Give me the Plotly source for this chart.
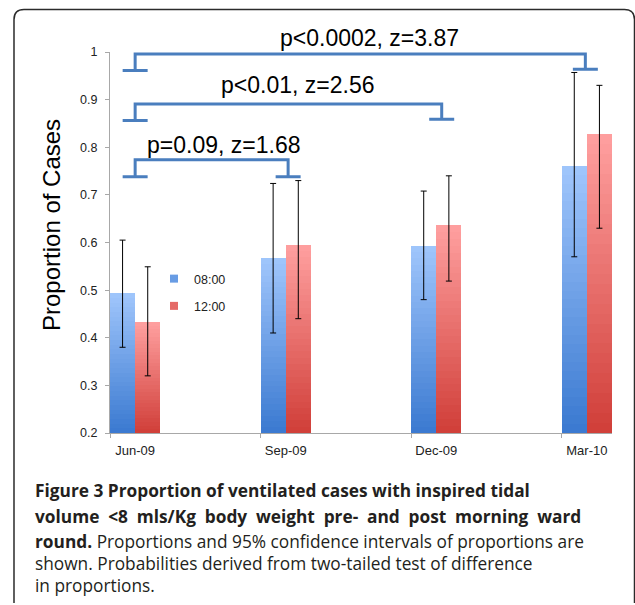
import plotly.graph_objects as go

# ---------------- data ----------------
categories = ["Jun-09", "Sep-09", "Dec-09", "Mar-10"]
series_names = ["08:00", "12:00"]
am_values = [0.493, 0.567, 0.593, 0.761]
am_lo = [0.380, 0.410, 0.480, 0.570]
am_hi = [0.605, 0.724, 0.708, 0.957]
noon_values = [0.433, 0.595, 0.637, 0.827]
noon_lo = [0.320, 0.440, 0.519, 0.630]
noon_hi = [0.549, 0.730, 0.740, 0.930]
y_tick_values = [0.2, 0.3, 0.4, 0.5, 0.6, 0.7, 0.8, 0.9, 1.0]
y_tick_labels = ["0.2", "0.3", "0.4", "0.5", "0.6", "0.7", "0.8", "0.9", "1"]
comparison_labels = ["p<0.0002, z=3.87", "p<0.01, z=2.56", "p=0.09, z=1.68"]
comparison_from = [0, 0, 0]
comparison_to = [3, 2, 1]
y_title = "Proportion of Cases"
SP = " \u2005"  # widened word gap (justified line)
caption_lines = [
    "<b>Figure 3 Proportion of ventilated cases with inspired tidal</b>",
    "<b>" + SP.join("volume &lt;8 mls/Kg body weight pre- and post morning ward".split(" ")) + "</b>",
    "<b>round.</b> Proportions and 95% confidence intervals of proportions are",
    "shown. Probabilities derived from two-tailed test of difference",
    "in proportions.",
]

# ---------------- layout constants ----------------
W, H = 635, 605
ML, MR, MT, MB = 110, 23, 52, 172
PW, PH = W - ML - MR, H - MT - MB
Y0, Y1 = 0.2, 1.0
BAR_W = 0.167
X_RANGE = [-BAR_W, len(categories) - 1 + BAR_W]

BLUE_BOTTOM, BLUE_TOP = (58, 121, 208), (160, 198, 252)
RED_BOTTOM, RED_TOP = (208, 62, 56), (255, 160, 160)
BRACKET_COLOR = "rgb(74,126,190)"
N_SEG = 30


def px2paper(px, py):
    return (px - ML) / PW, (H - MB - py) / PH


def mix(c0, c1, t):
    return "rgb(%d,%d,%d)" % tuple(round(a + (b - a) * t) for a, b in zip(c0, c1))


fig = go.Figure()

series = [
    (am_values, am_lo, am_hi, -BAR_W / 2, BLUE_BOTTOM, BLUE_TOP),
    (noon_values, noon_lo, noon_hi, BAR_W / 2, RED_BOTTOM, RED_TOP),
]

for name, (vals, lo, hi, off, cb, ct) in zip(series_names, series):
    xs = [i + off for i in range(len(categories))]
    # gradient bars built from stacked slices of each data value
    for k in range(N_SEG):
        seg_h = [(v - Y0) / N_SEG for v in vals]
        base = [Y0 + (v - Y0) * k / N_SEG for v in vals]
        fig.add_trace(go.Bar(
            x=xs, y=seg_h, base=base, width=BAR_W,
            marker=dict(color=mix(cb, ct, (k + 0.5) / N_SEG), line=dict(width=0)),
            showlegend=False, hoverinfo="skip",
        ))
    # error bars
    fig.add_trace(go.Scatter(
        x=xs, y=vals, mode="markers",
        marker=dict(size=1, opacity=0),
        error_y=dict(type="data", symmetric=False,
                     array=[h - v for h, v in zip(hi, vals)],
                     arrayminus=[v - l for l, v in zip(lo, vals)],
                     color="black", thickness=1, width=3),
        showlegend=False, hoverinfo="skip",
    ))
    # legend entry
    fig.add_trace(go.Scatter(
        x=[None], y=[None], mode="markers", name=name, legendgroup=name,
        marker=dict(symbol="square", size=8, color=mix(cb, ct, 0.45)),
    ))

# ---------------- significance brackets ----------------
bracket_y_top = [0.996, 0.891, 0.7735]
bracket_y_foot_left = [0.961, 0.856, 0.738]
bracket_y_foot_right = [0.964, 0.859, 0.738]
bracket_right_shift = [-0.01, 0.036, 0.016]
label_px = [(369, 38), (297.5, 85), (223, 145)]
FOOT = 0.083

shapes = []
annotations = []
for j, lab in enumerate(comparison_labels):
    xl = comparison_from[j]
    xr = comparison_to[j] + bracket_right_shift[j]
    yt = bracket_y_top[j]
    yfl = bracket_y_foot_left[j]
    yfr = bracket_y_foot_right[j]
    path = (f"M{xl - FOOT},{yfl} L{xl + FOOT},{yfl} M{xl},{yfl} L{xl},{yt} "
            f"L{xr},{yt} L{xr},{yfr} M{xr - FOOT},{yfr} L{xr + FOOT},{yfr}")
    shapes.append(dict(type="path", xref="x", yref="y", path=path,
                       line=dict(color=BRACKET_COLOR, width=3)))
    ax_, ay_ = px2paper(*label_px[j])
    annotations.append(dict(x=ax_, y=ay_, xref="paper", yref="paper",
                            text=lab, showarrow=False, xanchor="center", yanchor="middle",
                            font=dict(family="Liberation Sans", size=23, color="black")))

# y-axis title
tx, ty = px2paper(51, 225)
annotations.append(dict(x=tx, y=ty, xref="paper", yref="paper", text=y_title,
                        textangle=-90, showarrow=False, xanchor="center", yanchor="middle",
                        font=dict(family="Liberation Sans", size=24, color="black")))

# caption
caption_y = [490, 516, 541, 563, 585]
for line, py in zip(caption_lines, caption_y):
    cx, cy = px2paper(33, py)
    annotations.append(dict(x=cx, y=cy, xref="paper", yref="paper", text=line,
                            showarrow=False, xanchor="left", yanchor="middle",
                            font=dict(family="Open Sans", size=17.3, color="#231f20")))

# rounded frame
R = 10
lx, rx, ty_, by = 14, 634.5, 9.5, 603


def P(px, py):
    a, b = px2paper(px, py)
    return f"{a:.5f},{b:.5f}"


frame = (f"M{P(lx, by)} L{P(lx, ty_ + R)} Q{P(lx, ty_)} {P(lx + R, ty_)} "
         f"L{P(rx - R, ty_)} Q{P(rx, ty_)} {P(rx, ty_ + R)} L{P(rx, by)}")
shapes.append(dict(type="path", xref="paper", yref="paper", path=frame,
                   line=dict(color="#2b2b2b", width=1.5)))

lgx, lgy = px2paper(154, 264)

fig.update_layout(
    width=W, height=H, autosize=False,
    margin=dict(l=ML, r=MR, t=MT, b=MB, pad=0),
    paper_bgcolor="white", plot_bgcolor="white",
    barmode="overlay", bargap=0,
    showlegend=True,
    legend=dict(x=lgx, y=lgy, xanchor="left", yanchor="top", bgcolor="rgba(0,0,0,0)",
                font=dict(family="Liberation Sans", size=12.5, color="#222"),
                itemwidth=30, tracegroupgap=8, borderwidth=0),
    xaxis=dict(range=X_RANGE, showgrid=False, zeroline=False, showline=True,
               linecolor="#a8a8a8", linewidth=1,
               tickmode="array", tickvals=list(range(len(categories))), ticktext=categories,
               ticks="", ticklabelstandoff=5,
               tickfont=dict(family="Liberation Sans", size=13, color="#222")),
    xaxis2=dict(range=X_RANGE, overlaying="x", anchor="y", side="bottom",
                showgrid=False, zeroline=False, showline=False, showticklabels=False,
                tickmode="array", tickvals=[i - BAR_W for i in range(len(categories))],
                ticks="outside", ticklen=4, tickcolor="#a8a8a8"),
    yaxis=dict(range=[Y0, Y1], showgrid=False, zeroline=False, showline=True,
               linecolor="#a8a8a8", linewidth=1, ticks="outside", ticklen=4,
               tickcolor="#a8a8a8", tickmode="array", tickvals=y_tick_values,
               ticktext=y_tick_labels, ticklabelstandoff=5,
               tickfont=dict(family="Liberation Sans", size=12.5, color="#222")),
    shapes=shapes,
    annotations=annotations,
)
# dummy trace so xaxis2 is drawn
fig.add_trace(go.Scatter(x=[None], y=[None], xaxis="x2", showlegend=False, hoverinfo="skip"))

fig.write_html("out.html", config={"displayModeBar": False},
               post_script="document.body.style.margin='0';document.body.style.overflow='hidden';")
